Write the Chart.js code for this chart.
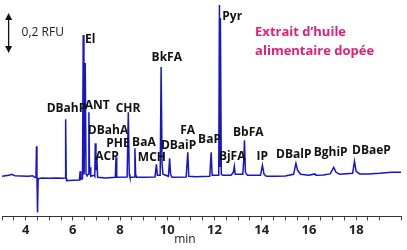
<!DOCTYPE html>
<html>
<head>
<meta charset="utf-8">
<script src="https://cdn.jsdelivr.net/npm/chart.js@4/dist/chart.umd.min.js"></script>
<style>
  html, body { margin: 0; padding: 0; background: #fff; }
  #wrap { width: 407px; height: 250px; }
</style>
</head>
<body>
<div id="wrap"><canvas id="chart" width="407" height="250"></canvas></div>
<script>
// retention time (min) and fluorescence signal (RFU)
var retentionTime = [
  3.00, 3.30, 3.40, 3.55, 3.80, 4.10, 4.30, 4.40, 4.44, 4.46, 4.48, 4.505, 4.53,
  4.70, 5.00, 5.30, 5.60, 5.67, 5.696, 5.72, 5.74, 6.00, 6.28, 6.31, 6.34,
  6.41, 6.44, 6.47, 6.48, 6.525, 6.56, 6.60, 6.65, 6.68, 6.71, 6.735, 6.76,
  6.90, 6.93, 6.95, 6.98, 7.02, 7.05, 7.40, 7.80, 7.83, 7.86, 8.30, 8.35,
  8.39, 8.42, 8.60, 8.63, 8.66, 8.70, 9.00, 9.48, 9.54, 9.58, 9.70, 9.74,
  9.78, 9.82, 10.05, 10.10, 10.14, 10.20, 10.80, 10.87, 10.91, 11.20, 11.80,
  11.86, 11.90, 12.18, 12.21, 12.235, 12.25, 12.29, 12.35, 12.70, 12.80,
  12.84, 12.88, 13.20, 13.24, 13.27, 13.31, 13.40, 13.95, 14.03, 14.10,
  14.20, 14.60, 15.00, 15.35, 15.45, 15.52, 15.65, 16.00, 16.25, 16.30,
  16.60, 16.90, 17.05, 17.15, 17.30, 17.85, 17.93, 18.00, 18.15, 18.50,
  19.00, 19.50, 19.90
];
var signal = [
  0.000, 0.005, 0.010, 0.003, 0.002, 0.000, 0.003, -0.006, 0.000, 0.150, 0.000, -0.180, -0.012,
  -0.008, -0.010, -0.008, -0.010, -0.008, 0.285, -0.010, -0.022, -0.020, -0.018, 0.025, -0.015,
  -0.012, 0.705, 0.010, 0.020, 0.565, 0.010, 0.005, 0.010, 0.320, 0.020, 0.045, 0.000,
  0.005, 0.000, 0.165, 0.030, 0.090, -0.005, -0.008, -0.005, 0.095, -0.005, -0.003, 0.320,
  0.010, -0.005, -0.003, 0.140, 0.010, -0.005, -0.005, -0.003, 0.060, 0.005, 0.005, 0.545,
  0.060, 0.010, 0.000, 0.090, 0.010, -0.005, -0.003, 0.120, 0.000, -0.002, 0.000,
  0.120, 0.005, 0.005, 0.855, 0.050, 0.790, 0.010, 0.005, 0.005, 0.020,
  0.050, 0.010, 0.010, 0.080, 0.180, 0.020, 0.005, 0.005, 0.055, 0.010,
  0.000, 0.000, 0.002, 0.010, 0.065, 0.030, 0.010, 0.005, 0.012, 0.005,
  0.007, 0.012, 0.045, 0.020, 0.010, 0.015, 0.075, 0.025, 0.012, 0.012,
  0.015, 0.020, 0.020
];

// peak names and where their labels sit (min, RFU)
var peakNames = ["DBahP", "El", "ANT", "CHR", "BkFA", "DBahA", "PHE", "ACP", "BaA", "MCH",
  "DBaiP", "FA", "BaP", "Pyr", "BjFA", "BbFA", "IP", "DBalP", "BghiP", "DBaeP"];
var labelTime = [5.73, 6.74, 7.03, 8.34, 9.98, 7.49, 7.91, 7.45, 9.01, 9.35,
  10.48, 10.86, 11.79, 12.75, 12.75, 13.43, 14.02, 15.36, 16.92, 18.65];
var labelLevel = [0.34, 0.68, 0.355, 0.34, 0.595, 0.23, 0.165, 0.10, 0.17, 0.095,
  0.155, 0.23, 0.185, 0.795, 0.10, 0.22, 0.10, 0.11, 0.12, 0.13];

var timeMin = 3, timeMax = 19.9;
var levelMin = -0.2, levelMax = 0.88;

var points = retentionTime.map(function ( t, i ) {
  return { x: t, y: signal[ i ] };
} );

var annotations = {
  id: "annotations",
  afterDatasetsDraw: function ( chart ) {
    var ctx = chart.ctx;
    var xs = chart.scales.x, ys = chart.scales.y;
    ctx.save();
    // peak labels
    ctx.fillStyle = "#111";
    ctx.font = "bold 12px 'Open Sans'";
    ctx.textAlign = "center";
    ctx.textBaseline = "middle";
    peakNames.forEach( function ( name, i ) {
      ctx.fillText( name, xs.getPixelForValue( labelTime[ i ] ), ys.getPixelForValue( labelLevel[ i ] ) );
    } );

    // 0,2 RFU scale arrow
    var ax = xs.getPixelForValue( 3.28 );
    var yTop = ys.getPixelForValue( 0.815 ), yBot = ys.getPixelForValue( 0.615 );
    ctx.strokeStyle = "#111";
    ctx.lineWidth = 1.3;
    ctx.beginPath();
    ctx.moveTo( ax, yTop + 5 );
    ctx.lineTo( ax, yBot - 5 );
    ctx.stroke();
    ctx.beginPath();
    ctx.moveTo( ax, yTop ); ctx.lineTo( ax - 3.5, yTop + 7 ); ctx.lineTo( ax + 3.5, yTop + 7 );
    ctx.closePath(); ctx.fill();
    ctx.beginPath();
    ctx.moveTo( ax, yBot ); ctx.lineTo( ax - 3.5, yBot - 7 ); ctx.lineTo( ax + 3.5, yBot - 7 );
    ctx.closePath(); ctx.fill();
    ctx.font = "12px 'Open Sans'";
    ctx.textAlign = "left";
    ctx.fillStyle = "#222";
    ctx.fillText( "0,2 RFU", xs.getPixelForValue( 3.83 ), ys.getPixelForValue( 0.715 ) );

    // sample title
    ctx.fillStyle = "#e41e73";
    ctx.font = "bold 13px 'Open Sans'";
    ctx.fillText( "Extrait d\u2019huile", xs.getPixelForValue( 13.72 ), ys.getPixelForValue( 0.72 ) );
    ctx.fillText( "alimentaire dop\u00e9e", xs.getPixelForValue( 13.72 ), ys.getPixelForValue( 0.625 ) );

    // axis title
    ctx.fillStyle = "#222";
    ctx.font = "12px 'Open Sans'";
    ctx.textAlign = "center";
    ctx.fillText( "min", xs.getPixelForValue( 10.75 ), 240 );
    ctx.restore();
  }
};

new Chart( document.getElementById( "chart" ).getContext( "2d" ), {
  type: "line",
  data: {
    datasets: [ {
      data: points,
      borderColor: "#1616c8",
      borderWidth: 1.5,
      pointRadius: 0,
      tension: 0,
      fill: false
    } ]
  },
  options: {
    responsive: false,
    animation: false,
    layout: { padding: { left: 0, right: 6, top: 0, bottom: 10 } },
    plugins: { legend: { display: false }, tooltip: { enabled: false } },
    scales: {
      x: {
        type: "linear",
        min: timeMin,
        max: timeMax,
        ticks: {
          stepSize: 0.5,
          autoSkip: false,
          maxRotation: 0,
          padding: 2,
          color: "#222",
          font: { family: "'Open Sans'", size: 13, weight: "bold" },
          callback: function ( value ) {
            return ( value % 2 === 0 && value >= 4 && value <= 18 ) ? value : "";
          }
        },
        grid: { drawOnChartArea: false, drawTicks: true, tickLength: 4, color: "#444" },
        border: { display: true, color: "#333", width: 1 }
      },
      y: {
        display: false,
        min: levelMin,
        max: levelMax
      }
    }
  },
  plugins: [ annotations ]
} );
</script>
</body>
</html>
